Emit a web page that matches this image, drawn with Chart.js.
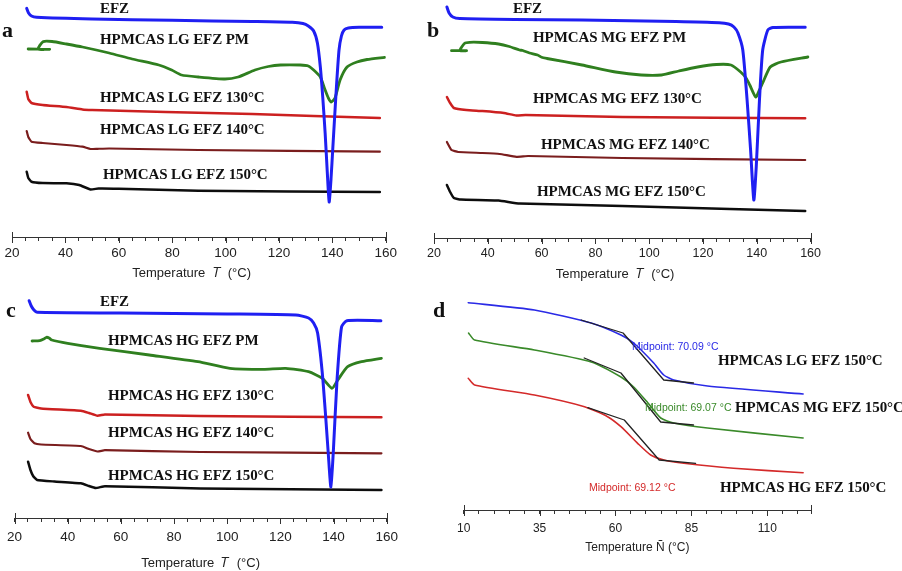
<!DOCTYPE html>
<html><head><meta charset="utf-8">
<script src="https://cdn.jsdelivr.net/npm/chart.js@4.4.1/dist/chart.umd.min.js"></script>
<style>
html,body{margin:0;padding:0;background:#fff;}
#wrap{position:relative;width:902px;height:571px;overflow:hidden;background:#fff;}
canvas{position:absolute;}
.lbl{position:absolute;font-family:"Liberation Serif","Times New Roman",serif;font-weight:bold;font-size:15px;color:#111;white-space:nowrap;line-height:1;transform:translateY(-50%);letter-spacing:-0.1px;}
.pl{position:absolute;font-family:"Liberation Serif","Times New Roman",serif;font-weight:bold;font-size:22px;color:#111;line-height:1;transform:translateY(-50%);}
.mid{position:absolute;font-family:"Liberation Sans",Arial,sans-serif;font-size:10.5px;line-height:1;white-space:nowrap;transform:translateY(-50%);}
</style></head>
<body><div id="wrap">
<canvas id="ca" width="401" height="281" style="left:0;top:0"></canvas>
<canvas id="cb" width="403" height="282" style="left:422px;top:0"></canvas>
<canvas id="cc" width="405" height="286" style="left:0;top:285px"></canvas>
<canvas id="cd" width="373" height="265" style="left:450px;top:290px"></canvas>
</div>
<script>
// ---------- DATA (temperature °C, heat flow arbitrary units) ----------
// Panel a: HPMCAS LG
const a_EFZ = [[25.5,22.87],[26.2,22.4],[27.3,22.1],[29.2,21.97],[50,21.8],[80,21.67],[110,21.55],[125,21.47],[129,21.35],[131,21.1],[133,20.6],[134.4,19.4],[135.5,17.0],[136.4,14.0],[137.3,10.4],[138.1,6.5],[138.8,3.5],[139.5,5.8],[140.2,9.0],[140.9,12.2],[141.6,15.3],[142.5,18.7],[143.4,20.1],[144.4,20.7],[146,20.9],[150,20.97],[158.5,20.97]];
const a_PM  = [[26.05,18.8],[34.1,18.77],[29.8,18.8],[31.6,19.53],[35,19.55],[40.4,19.3],[46.4,19.0],[56.4,18.4],[65,17.8],[75,17.2],[79.8,16.7],[83.5,16.2],[89.8,16.0],[99.8,15.8],[104.7,16.0],[111,16.7],[116,17.05],[120.6,17.2],[128,17.2],[131,17.1],[133,16.7],[135.5,16.0],[137.3,14.7],[138.5,13.9],[139.6,13.5],[141,13.9],[142.9,15.7],[145.5,17.0],[149.2,17.5],[153,17.75],[159.6,17.97]];
const a_130 = [[25.5,14.53],[26.1,13.8],[27.3,13.4],[31.5,13.2],[40.4,13.0],[46.4,12.75],[50,12.7],[77.6,12.5],[110,12.3],[133,12.1],[157.8,11.9]];
const a_140 = [[25.5,10.6],[26.1,10.0],[27.3,9.53],[31.5,9.4],[40.4,9.2],[46.4,9.03],[49.4,8.8],[52,8.82],[56.4,8.85],[89.8,8.7],[157.8,8.53]];
const a_150 = [[25.5,6.53],[26.1,5.9],[27.3,5.53],[31.5,5.4],[40.4,5.37],[45.2,5.2],[49.4,4.75],[52.4,4.85],[60,4.83],[89.8,4.63],[157.8,4.5]];
// Panel b: HPMCAS MG
const b_EFZ = [[24.8,23.1],[25.6,22.5],[27,22.1],[29.6,21.95],[50,21.85],[75,21.8],[110,21.65],[126,21.53],[129.5,21.4],[131.5,21.1],[133,20.5],[134.8,18.8],[136.4,13.8],[137.7,8.8],[138.9,3.8],[139.8,7.1],[141,13.8],[142.2,18.8],[144.1,20.8],[146,21.05],[158,21.07]];
const b_PM  = [[26.5,18.73],[32.1,18.73],[29.6,18.73],[31.4,19.47],[33.3,19.57],[38,19.55],[44,19.4],[48,19.15],[51.8,18.8],[53,18.75],[55.5,18.5],[58.5,18.3],[60,18.07],[62,17.95],[75,17.3],[87.5,16.6],[97,16.3],[104.6,16.3],[111,16.7],[118,17.1],[125,17.35],[130.4,17.3],[134,16.6],[136,16.0],[137.4,15.3],[139.6,14.1],[141,14.8],[142.2,15.5],[145,17.1],[149,17.6],[159,18.1]];
const b_130 = [[24.8,14.1],[26,13.5],[27.4,13.0],[32,12.8],[38,12.7],[46,12.5],[50.6,12.25],[54,12.3],[90,12.1],[158,11.97]];
const b_140 = [[24.8,9.6],[26.5,8.8],[29,8.6],[38,8.5],[44.4,8.4],[50.6,8.12],[55,8.2],[90,8.0],[158,7.8]];
const b_150 = [[24.8,5.3],[26,4.6],[27.4,4.0],[30,3.85],[44,3.75],[51.8,3.45],[90,3.2],[130,2.9],[158,2.7]];
// Panel c: HPMCAS HG
const c_EFZ = [[25.5,21.73],[26.3,21.2],[27.3,20.8],[28.5,20.57],[60,20.5],[100,20.4],[125.8,20.3],[130.6,20.0],[132.5,19.5],[134,18.5],[136,13.8],[138,6.5],[139,3.1],[140,7.1],[141.3,13.8],[143,19.1],[145,19.73],[157.8,19.73]];
const c_PM  = [[26.6,17.7],[29.5,17.73],[31,17.9],[32,18.07],[33,18.0],[34,17.8],[40,17.47],[52,16.97],[70.7,16.3],[89,15.63],[101,14.97],[113.7,14.87],[122,14.97],[130.6,14.63],[135.8,13.97],[139.4,12.97],[141.6,13.8],[145.3,15.13],[150.5,15.63],[158,15.97]];
const c_130 = [[25.1,12.3],[26,11.6],[27.2,11.13],[30,10.95],[45,10.73],[48,10.5],[51.2,10.22],[54,10.35],[90,10.2],[158,10.07]];
const c_140 = [[25.1,8.53],[26,7.9],[27.5,7.47],[30,7.35],[45,7.2],[48,6.9],[51.2,6.65],[54,6.78],[90,6.6],[158,6.47]];
const c_150 = [[25.1,5.63],[26,4.8],[27,4.2],[28.5,3.8],[35,3.65],[45,3.47],[48,3.2],[50.5,3.0],[54,3.18],[90,2.95],[158,2.8]];
// Panel d: Tg of 150 °C extrudates
const d_LG = [[11.5,20.73],[33.3,20.0],[52,18.7],[61.8,17.5],[66,16.7],[72.6,14.7],[75.9,13.5],[79.2,13.0],[90.3,12.4],[121.8,11.6]];
const d_MG = [[11.6,17.7],[13.6,17.0],[33.3,16.0],[52,14.8],[61.8,13.3],[66,12.3],[70.7,10.7],[74.9,9.2],[79.2,8.7],[90.3,8.2],[121.8,7.2]];
const d_HG = [[11.5,13.17],[13.6,12.5],[33.3,11.5],[49.8,10.33],[57.4,9.33],[61.8,8.33],[67.3,6.67],[71.6,5.5],[76,5.0],[82.5,4.67],[98.9,4.17],[121.8,3.73]];
const d_tanLG = [[48.7,19.0],[62.5,17.7],[75.9,13.0],[85.7,12.7]];
const d_tanMG = [[49.7,15.2],[61.8,13.7],[74.9,8.8],[85.7,8.5]];
const d_tanHG = [[50.9,10.23],[62.9,9.0],[74.4,5.0],[86.4,4.67]];
const midpoints = ["Midpoint: 70.09 °C","Midpoint: 69.07 °C","Midpoint: 69.12 °C"];
// Tick labels
const ticksABC = [20,40,60,80,100,120,140,160];
const ticksD = [10,35,60,85,110];
const namesA = ["EFZ","HPMCAS LG EFZ PM","HPMCAS LG EFZ 130°C","HPMCAS LG EFZ 140°C","HPMCAS LG EFZ 150°C"];
const namesB = ["EFZ","HPMCAS MG EFZ PM","HPMCAS MG EFZ 130°C","HPMCAS MG EFZ 140°C","HPMCAS MG EFZ 150°C"];
const namesC = ["EFZ","HPMCAS HG EFZ PM","HPMCAS HG EFZ 130°C","HPMCAS HG EFZ 140°C","HPMCAS HG EFZ 150°C"];
const namesD = ["HPMCAS LG EFZ 150°C","HPMCAS MG EFZ 150°C","HPMCAS HG EFZ 150°C"];
const panelLetters = ["a","b","c","d"];

// ---------- STYLE / LAYOUT ----------
const COL = {blue:'#1f1ff2', green:'#2f7f1f', red:'#cc2020', dark:'#7a1d1d', black:'#0d0d0d'};
function minorTicks(lo, hi){ const r=[]; for(let v=lo; v<=hi+1e-9; v+=5) r.push(v); return r; }

const axisDeco = {
  id:'axisDeco',
  afterDraw(chart, args, opts){
    const sc = chart.scales.x, ctx = chart.ctx, y = sc.top;
    ctx.save(); ctx.strokeStyle='#333'; ctx.lineWidth=1;
    [sc.min, sc.max].forEach(v=>{ const x=Math.round(sc.getPixelForValue(v))+0.5; ctx.beginPath(); ctx.moveTo(x,y-5); ctx.lineTo(x,y+4); ctx.stroke(); });
    (opts.majors||[]).forEach(v=>{ const x=Math.round(sc.getPixelForValue(v))+0.5; ctx.beginPath(); ctx.moveTo(x,y); ctx.lineTo(x,y+6); ctx.stroke(); });
    ctx.restore();
  }
};

function makeChart(id, o){
  new Chart(document.getElementById(id), {
    type:'line',
    data:{datasets:o.series.map(s=>({data:s.d.map(p=>({x:p[0],y:p[1]})), borderColor:s.c, borderWidth:s.w, pointRadius:0, tension:s.t===undefined?0.2:s.t, fill:false, borderCapStyle:'round', borderJoinStyle:'round'}))},
    plugins:[axisDeco],
    options:{
      responsive:false, animation:false, events:[],
      layout:{padding:{left:12,right:12,top:0,bottom:0}},
      plugins:{legend:{display:false}, tooltip:{enabled:false}, axisDeco:{majors:o.majors}},
      scales:{
        x:{type:'linear', min:o.min, max:o.max,
           afterBuildTicks: sc => { sc.ticks = minorTicks(o.min, o.max).map(v=>({value:v})); },
           afterFit: sc => { sc.height = o.axisH; },
           ticks:{autoSkip:false, maxRotation:0, padding:o.tickPad, color:'#222',
                  font:{family:'"Liberation Sans", Arial, sans-serif', size:o.tickSize},
                  callback:(v)=> o.majors.includes(v) ? String(v) : ''},
           grid:{drawOnChartArea:false, drawTicks:true, tickLength:4, color:'#333', tickWidth:1},
           border:{display:true, color:'#333', width:1},
           title:{display:true, text:o.title, color:'#222', padding:{top:0,bottom:0},
                  font:{family:'"Liberation Sans", Arial, sans-serif', size:o.titleSize}}},
        y:{display:false, min:0, max:o.ymax}
      }
    }
  });
}

const std = (e,p,r1,r2,r3)=>[
  {d:e,c:COL.blue,w:3},{d:p,c:COL.green,w:2.8},{d:r1,c:COL.red,w:2.5,t:0.12},{d:r2,c:COL.dark,w:2.2,t:0.12},{d:r3,c:COL.black,w:2.5,t:0.12}];

makeChart('ca',{series:std(a_EFZ,a_PM,a_130,a_140,a_150), min:20,max:160, majors:ticksABC, axisH:44, tickPad:4, tickSize:13.5, titleSize:13, title:'Temperature  𝑇  (°C)    ', ymax:23.7});
makeChart('cb',{series:std(b_EFZ,b_PM,b_130,b_140,b_150), min:20,max:160, majors:ticksABC, axisH:44, tickPad:4, tickSize:12.5, titleSize:13, title:'Temperature  𝑇  (°C)    ', ymax:23.8});
makeChart('cc',{series:std(c_EFZ,c_PM,c_130,c_140,c_150), min:20,max:160, majors:ticksABC, axisH:53, tickPad:7, tickSize:13.5, titleSize:13, title:'Temperature  𝑇  (°C)', ymax:23.3});
makeChart('cd',{series:[
   {d:d_tanLG,c:'#222',w:1.3,t:0},{d:d_tanMG,c:'#222',w:1.3,t:0},{d:d_tanHG,c:'#222',w:1.3,t:0},
   {d:d_LG,c:'#2a2ae6',w:1.6},{d:d_MG,c:'#3a8a2a',w:1.6},{d:d_HG,c:'#d42a2a',w:1.6}],
   min:10,max:124.4, majors:ticksD, axisH:45, tickPad:7, tickSize:12, titleSize:12, title:'Temperature Ñ (°C)', ymax:22});

// ---------- TEXT ----------
const wrap = document.getElementById('wrap');
function addText(cls, txt, x, y, color){ const el=document.createElement('div'); el.className=cls; el.textContent=txt; el.style.left=x+'px'; el.style.top=y+'px'; if(color) el.style.color=color; wrap.appendChild(el); }
const posA = [[100,8],[100,39],[100,97],[100,129],[103,174]];
const posB = [[513,8],[533,37],[533,98],[541,144],[537,191]];
const posC = [[100,301],[108,340],[108,395],[108,432],[108,475]];
const posD = [[718,360],[735,407],[720,487]];
namesA.forEach((t,i)=>addText('lbl',t,posA[i][0],posA[i][1]));
namesB.forEach((t,i)=>addText('lbl',t,posB[i][0],posB[i][1]));
namesC.forEach((t,i)=>addText('lbl',t,posC[i][0],posC[i][1]));
namesD.forEach((t,i)=>addText('lbl',t,posD[i][0],posD[i][1]));
const posL = [[2,30],[427,30],[6,310],[433,310]];
panelLetters.forEach((t,i)=>addText('pl',t,posL[i][0],posL[i][1]));
const posM = [[632,346,'#2a2ae6'],[645,407,'#3a8a2a'],[589,487,'#d42a2a']];
midpoints.forEach((t,i)=>addText('mid',t,posM[i][0],posM[i][1],posM[i][2]));
</script>
</body></html>
